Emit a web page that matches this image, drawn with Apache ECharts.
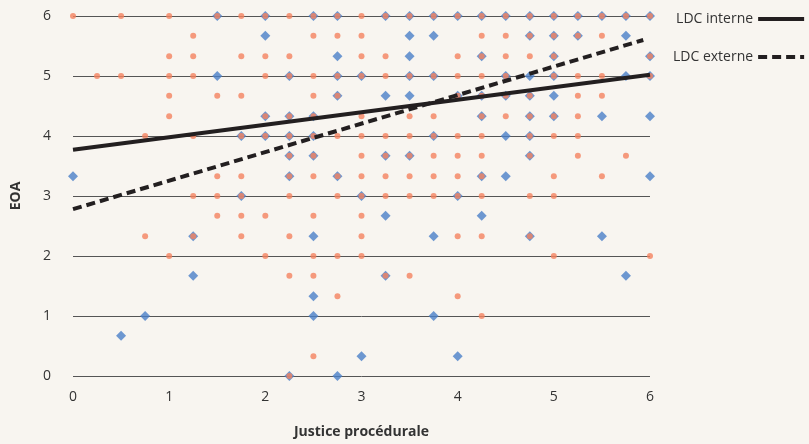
<!DOCTYPE html>
<html>
<head>
<meta charset="utf-8">
<script src="https://cdn.jsdelivr.net/npm/echarts@6/dist/echarts.min.js"></script>
<style>
html,body{margin:0;padding:0;background:#f8f5f0;}
#c{width:809px;height:444px;}
</style>
</head>
<body>
<div id="c"></div>
<script>
// Blue diamonds (one group of respondents)
const bluePoints = [
  [1.5,6],[2,6],[2.5,6],[2.75,6],[3.25,6],[3.5,6],[3.75,6],[4,6],[4.25,6],[4.5,6],[4.75,6],[5,6],[5.25,6],[5.5,6],[5.75,6],[6,6],
  [2,5.67],[3.5,5.67],[3.75,5.67],[4.75,5.67],[5,5.67],[5.25,5.67],[5.75,5.67],
  [2.75,5.33],[3.5,5.33],[4.25,5.33],[5,5.33],[6,5.33],
  [1.5,5],[2.25,5],[2.75,5],[3,5],[3.5,5],[3.75,5],[4.5,5],[4.75,5],[5,5],[5.75,5],[6,5],
  [2.75,4.67],[3.25,4.67],[3.5,4.67],[4,4.67],[4.25,4.67],[4.5,4.67],[4.75,4.67],[5,4.67],
  [2,4.33],[2.25,4.33],[2.5,4.33],[4.25,4.33],[4.75,4.33],[5,4.33],[5.5,4.33],[6,4.33],
  [1.75,4],[2,4],[2.25,4],[2.5,4],[3.75,4],[4.5,4],[4.75,4],
  [2.25,3.67],[2.5,3.67],[3.25,3.67],[3.5,3.67],[4.75,3.67],
  [0,3.33],[2.25,3.33],[2.75,3.33],[4.25,3.33],[4.5,3.33],[6,3.33],
  [1.75,3],[3,3],[4,3],
  [3.25,2.67],[4.25,2.67],
  [1.25,2.33],[2.5,2.33],[3.75,2.33],[4.75,2.33],[5.5,2.33],
  [1.25,1.67],[3.25,1.67],[5.75,1.67],
  [2.5,1.33],
  [0.75,1],[2.5,1],[3.75,1],
  [0.5,0.67],
  [3,0.33],[4,0.33],
  [2.25,0],[2.75,0]
];
// Orange dots (other group of respondents)
const orangePoints = [
  [0,6],[0.5,6],[1,6],[1.5,6],[1.75,6],[2,6],[2.25,6],[2.5,6],[2.75,6],[3,6],[3.25,6],[3.5,6],[3.75,6],[4,6],[4.25,6],[4.5,6],[4.75,6],[5,6],[5.25,6],[5.5,6],[5.75,6],[6,6],
  [1.25,5.67],[2.5,5.67],[2.75,5.67],[3,5.67],[4.25,5.67],[4.5,5.67],[4.75,5.67],[5,5.67],[5.25,5.67],[5.5,5.67],
  [1,5.33],[1.25,5.33],[1.75,5.33],[2,5.33],[2.25,5.33],[3,5.33],[3.25,5.33],[4,5.33],[4.25,5.33],[4.5,5.33],[4.75,5.33],[5,5.33],[6,5.33],
  [0.25,5],[0.5,5],[1,5],[1.25,5],[2,5],[2.25,5],[2.5,5],[2.75,5],[3,5],[3.25,5],[3.5,5],[3.75,5],[4,5],[4.25,5],[4.5,5],[5,5],[5.25,5],[5.5,5],[6,5],
  [1,4.67],[1.5,4.67],[1.75,4.67],[2.5,4.67],[2.75,4.67],[4,4.67],[4.25,4.67],[4.5,4.67],[4.75,4.67],[5.25,4.67],[5.5,4.67],
  [1,4.33],[2,4.33],[2.25,4.33],[2.5,4.33],[3,4.33],[3.5,4.33],[3.75,4.33],[4.25,4.33],[4.5,4.33],[4.75,4.33],[5,4.33],[5.25,4.33],
  [0.75,4],[1.25,4],[1.75,4],[2,4],[2.25,4],[2.5,4],[2.75,4],[3,4],[3.25,4],[3.5,4],[3.75,4],[4,4],[4.25,4],[4.75,4],[5,4],[5.25,4],
  [2.25,3.67],[2.5,3.67],[3,3.67],[3.25,3.67],[3.5,3.67],[3.75,3.67],[4,3.67],[4.25,3.67],[4.75,3.67],[5.25,3.67],[5.75,3.67],
  [1.5,3.33],[1.75,3.33],[2.25,3.33],[2.5,3.33],[2.75,3.33],[3,3.33],[3.25,3.33],[3.5,3.33],[3.75,3.33],[4,3.33],[4.25,3.33],[5,3.33],[5.5,3.33],
  [1.25,3],[1.5,3],[1.75,3],[2.25,3],[2.75,3],[3,3],[3.25,3],[3.5,3],[3.75,3],[4,3],[4.25,3],[4.75,3],[5,3],
  [1.5,2.67],[1.75,2.67],[2,2.67],[2.5,2.67],[3,2.67],
  [0.75,2.33],[1.25,2.33],[1.75,2.33],[2.25,2.33],[3,2.33],[4,2.33],[4.25,2.33],[4.75,2.33],
  [1,2],[2,2],[2.5,2],[2.75,2],[3,2],[5,2],[6,2],
  [2.25,1.67],[2.5,1.67],[3.25,1.67],[3.5,1.67],
  [2.75,1.33],[4,1.33],
  [4.25,1],
  [2.5,0.33],
  [2.25,0]
];
// Trend lines (start and end points)
const interneLine = [[0,3.77],[6,5.02]];
const externeLine = [[0,2.78],[5.93,5.6]];
const seriesNames = ['LDC interne','LDC externe'];
const xTicks = [0,1,2,3,4,5,6];
const yTicks = [0,1,2,3,4,5,6];

const FONT = '"Open Sans", "Noto Sans", sans-serif';
const chart = echarts.init(document.getElementById('c'), null, {renderer:'canvas'});
chart.setOption({
  backgroundColor:'#f8f5f0',
  animation:false,
  textStyle:{fontFamily:FONT},
  grid:{left:73,right:159,top:16,bottom:66,containLabel:false},
  legend:{
    data:seriesNames,
    orient:'vertical',
    left:668,top:7,
    align:'right',
    itemWidth:46,itemHeight:14,itemGap:24,
    itemStyle:{color:'rgba(0,0,0,0)',borderColor:'rgba(0,0,0,0)',borderWidth:0,opacity:0},
    lineStyle:{width:4},
    textStyle:{fontFamily:FONT,fontSize:14,color:'#333'}
  },
  xAxis:{
    type:'value',min:xTicks[0],max:xTicks[xTicks.length-1],interval:1,
    name:'Justice procédurale',nameLocation:'middle',nameGap:49,
    nameTextStyle:{fontFamily:FONT,fontSize:14,fontWeight:'bold',color:'#333'},
    axisLine:{show:false},axisTick:{show:false},splitLine:{show:false},
    axisLabel:{fontFamily:FONT,fontSize:14,color:'#333',margin:14}
  },
  yAxis:{
    type:'value',min:yTicks[0],max:yTicks[yTicks.length-1],interval:1,
    name:'EOA',nameLocation:'middle',nameGap:50,
    nameTextStyle:{fontFamily:FONT,fontSize:14,fontWeight:'bold',color:'#333'},
    axisLine:{show:false},axisTick:{show:false},
    splitLine:{show:true,lineStyle:{color:'#555',width:1}},
    axisLabel:{fontFamily:FONT,fontSize:14,color:'#333',margin:22}
  },
  series:[
    {type:'scatter',name:'blue',data:bluePoints,symbol:'diamond',symbolSize:10,
     itemStyle:{color:'#4a80c8'},z:2},
    {type:'scatter',name:'orange',data:orangePoints,symbol:'circle',symbolSize:6,
     itemStyle:{color:'#f4825f'},z:3},
    {type:'line',name:seriesNames[0],data:interneLine,showSymbol:false,
     lineStyle:{color:'#231f20',width:4},itemStyle:{color:'#231f20'},z:4},
    {type:'line',name:seriesNames[1],data:externeLine,showSymbol:false,
     lineStyle:{color:'#231f20',width:4,type:[9,5]},itemStyle:{color:'#231f20'},z:4}
  ]
});
</script>
</body>
</html>
